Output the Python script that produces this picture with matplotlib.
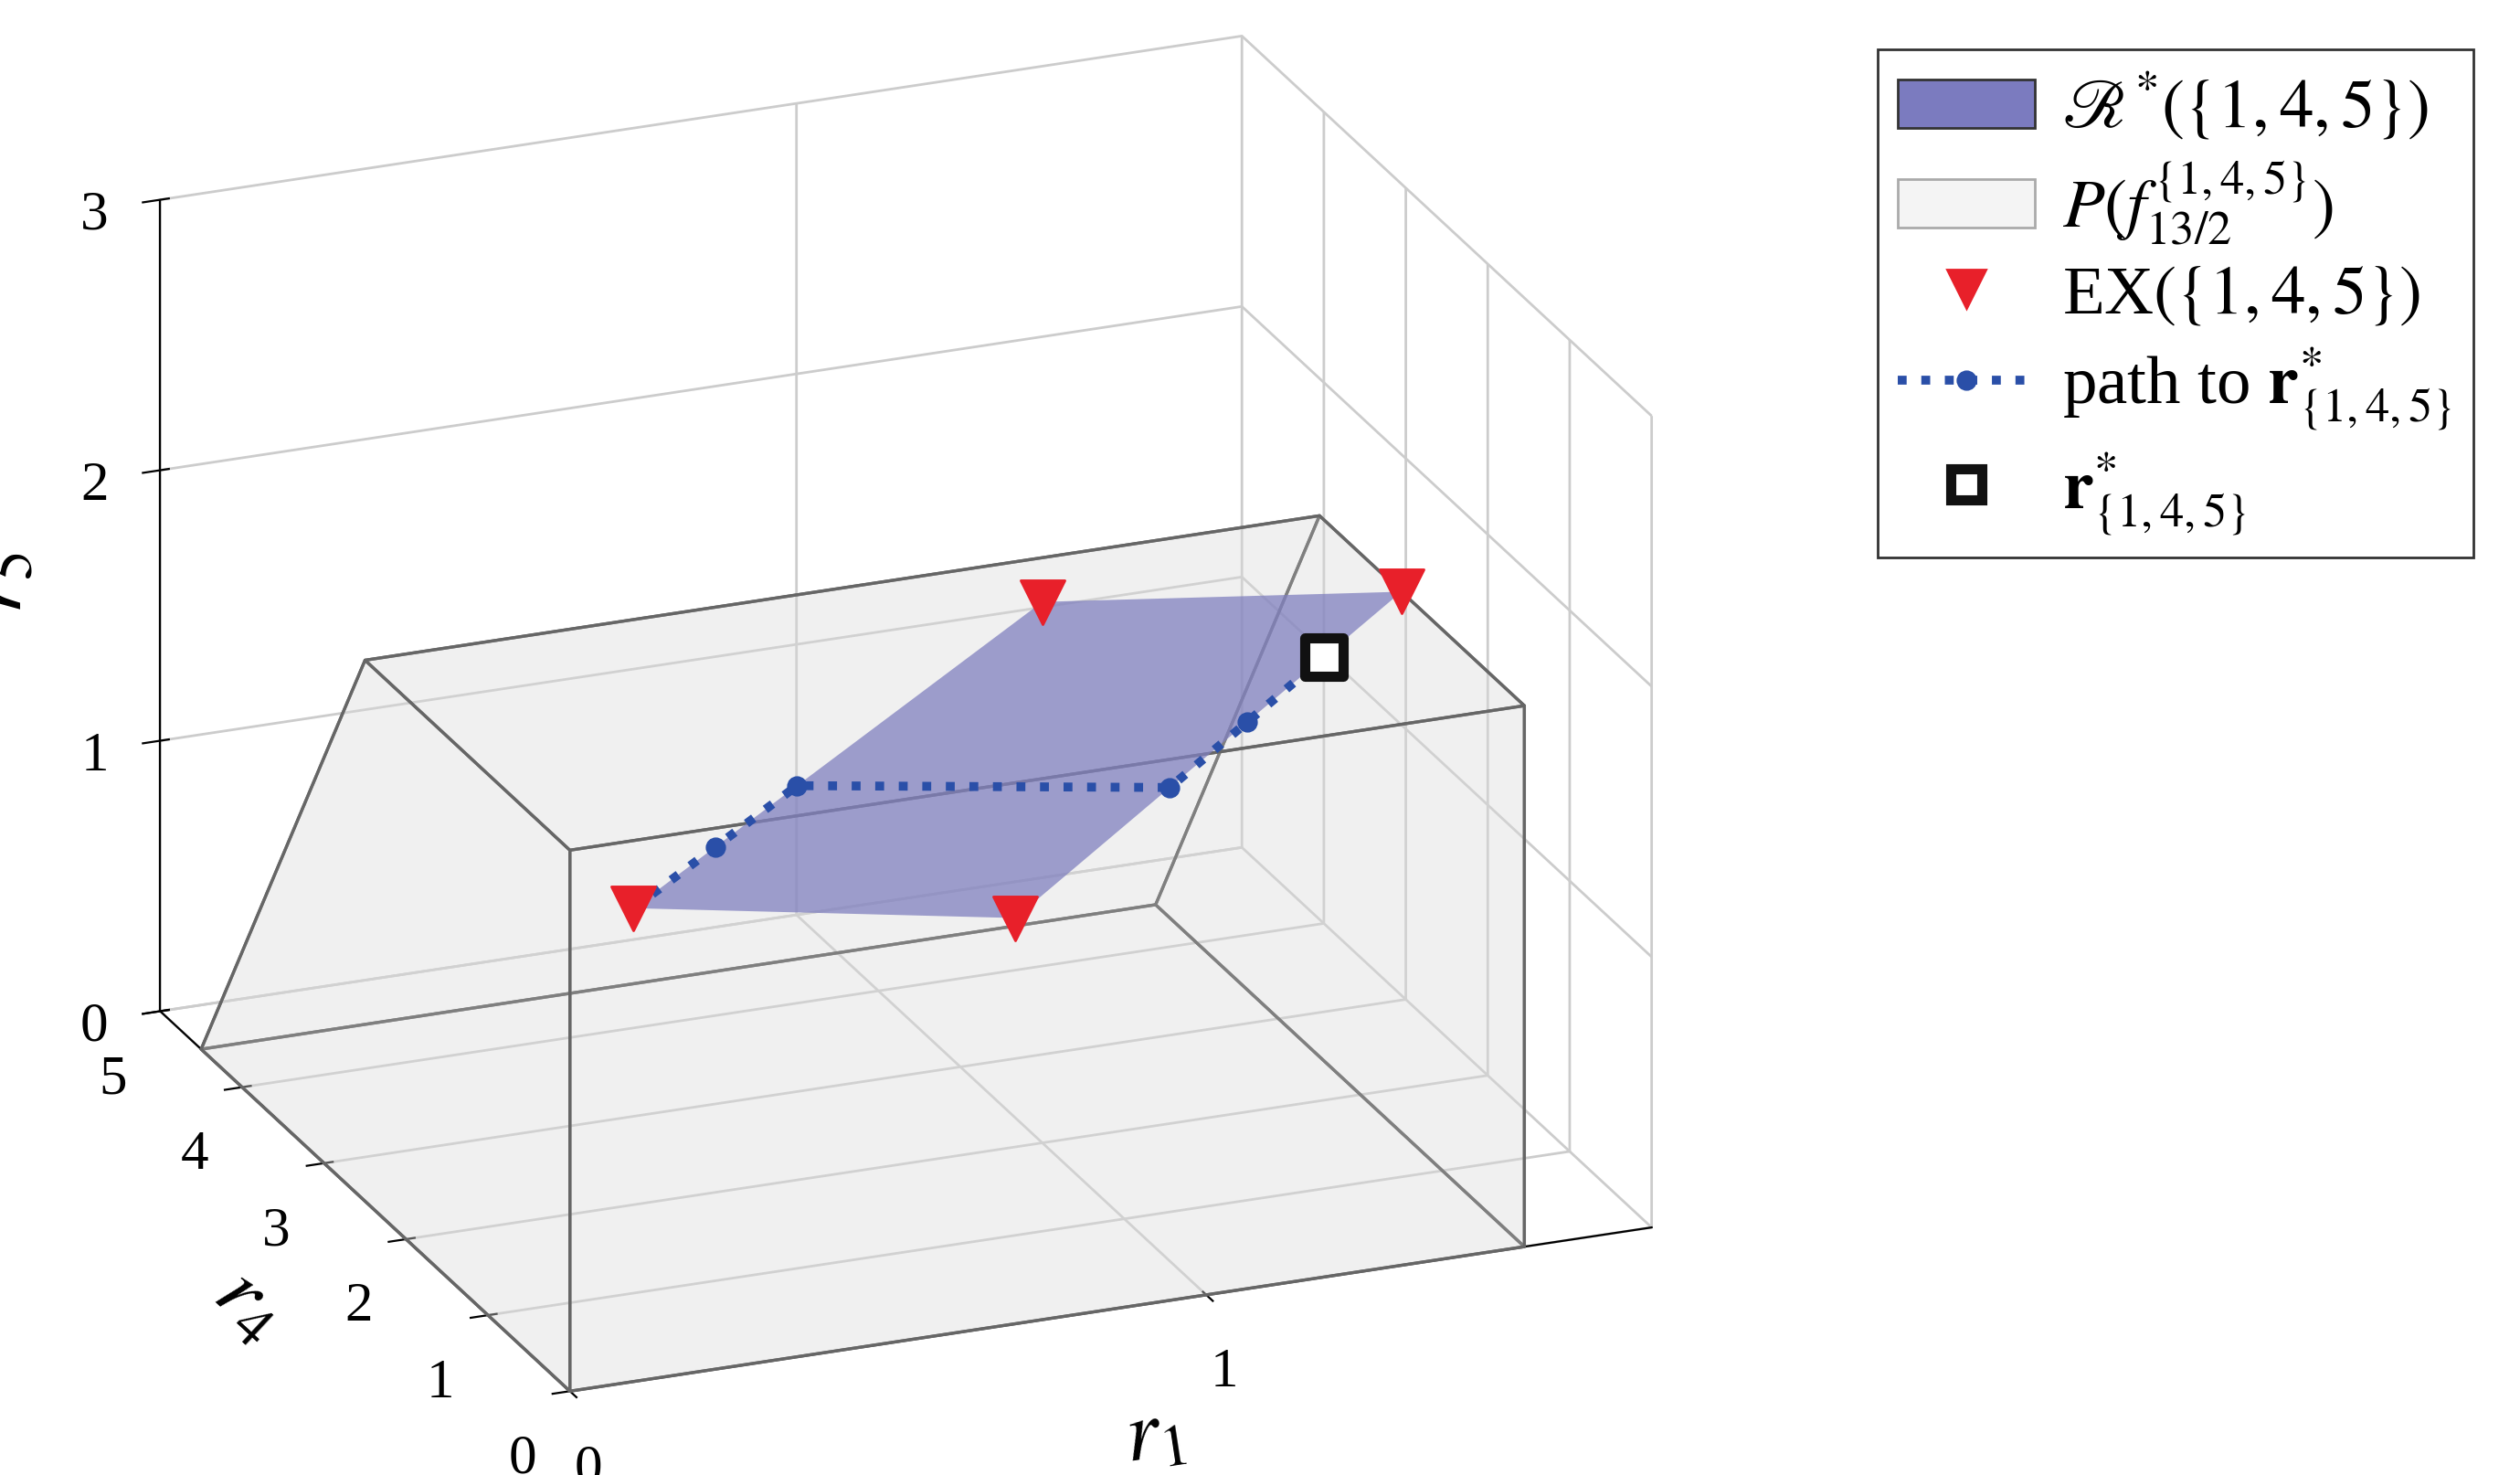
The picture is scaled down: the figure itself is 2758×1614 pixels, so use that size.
import numpy as np
import matplotlib.pyplot as plt
from mpl_toolkits.mplot3d.art3d import Poly3DCollection
from matplotlib.patches import Patch
from matplotlib.lines import Line2D

plt.rcParams['font.family'] = ['Liberation Serif', 'DejaVu Serif']
plt.rcParams['mathtext.fontset'] = 'stix'

# polytope P(f) vertices (r1, r4, r5)
r1_max = 1.5
p_front = [(0, 0, 0), (r1_max, 0, 0), (r1_max, 0, 2), (0, 0, 2)]
p_ridge = [(0, 2.5, 2), (r1_max, 2.5, 2)]
p_back = [(0, 4.5, 0), (r1_max, 4.5, 0)]

# extreme points of R*({1,4,5})
ex_r1 = [0.1, 0.7, 1.5, 1.0]
ex_r4 = [0.0, 0.0, 1.5, 2.0]
ex_r5 = [1.75, 1.5, 2.0, 2.0]

# path to r*
path_r1 = [0.1, 0.28, 0.46, 1.02, 1.18, 1.34]
path_r4 = [0.0, 0.4, 0.8, 0.6, 0.9, 1.2]
path_r5 = [1.75, 1.80, 1.85, 1.70, 1.80, 1.90]
rstar = (1.34, 1.2, 1.9)

fig = plt.figure(figsize=(13.79, 8.07), dpi=200)
ax = fig.add_axes([-0.08, -0.1, 0.86, 1.2], projection='3d')
ax.set_proj_type('ortho')
ax.computed_zorder = False

F0, F1, F2, F3 = p_front
R0, R1 = p_ridge
B0, B1 = p_back
faces = [
    [F0, F1, F2, F3],
    [F3, F2, R1, R0],
    [R0, R1, B1, B0],
    [F0, F1, B1, B0],
    [F0, F3, R0, B0],
    [F1, F2, R1, B1],
]
poly = Poly3DCollection(faces, facecolor=(0.86, 0.86, 0.86, 0.22),
                        edgecolor='#666666', linewidth=1.2, zorder=1)
ax.add_collection3d(poly)

reg = Poly3DCollection([list(zip(ex_r1, ex_r4, ex_r5))],
                       facecolor=(0.5, 0.5, 0.75, 0.75), edgecolor='none',
                       zorder=2)
ax.add_collection3d(reg)

ax.plot(path_r1, path_r4, path_r5, ':', color='#2a4fa8', lw=3.5,
        marker='o', ms=7, zorder=10)
ax.scatter(ex_r1, ex_r4, ex_r5, marker='v', s=300, color='#e8202a',
           depthshade=False, zorder=11)
ax.scatter([rstar[0]], [rstar[1]], [rstar[2]], marker='s', s=220,
           facecolor='white', edgecolor='#111111', linewidths=4,
           depthshade=False, zorder=12)

ax.set_xlim(0, 1.7)
ax.set_ylim(0, 5)
ax.set_zlim(0, 3)
ax.set_xticks([0, 1])
ax.set_yticks([0, 1, 2, 3, 4, 5])
ax.set_zticks([0, 1, 2, 3])
ax.tick_params(labelsize=22, pad=8)
ax.set_xlabel('$r_1$', fontsize=34, labelpad=18)
ax.set_ylabel('$r_4$', fontsize=34, labelpad=18)
ax.set_zlabel('$r_5$', fontsize=34, labelpad=18)
for a in (ax.xaxis, ax.yaxis, ax.zaxis):
    a.set_pane_color((1, 1, 1, 0))
    a._axinfo['grid']['color'] = '#cccccc'
    a._axinfo['grid']['linewidth'] = 1.0
ax.set_box_aspect((1.6, 1.5, 1.2))
ax.view_init(elev=22, azim=-112)

handles = [
    Patch(facecolor='#7b7bbf', edgecolor='#333333', label=r'$\mathscr{R}^{*}(\{1,4,5\})$'),
    Patch(facecolor='#f4f4f4', edgecolor='#aaaaaa', label=r'$P(f_{13/2}^{\{1,4,5\}})$'),
    Line2D([], [], ls='none', marker='v', ms=15, color='#e8202a', label=r'EX$(\{1,4,5\})$'),
    Line2D([], [], ls=':', lw=3.5, marker='o', ms=7, color='#2a4fa8', label=r'path to $\mathbf{r}^{*}_{\{1,4,5\}}$'),
    Line2D([], [], ls='none', marker='s', ms=12, mfc='white', mec='#111111', mew=4, label=r'$\mathbf{r}^{*}_{\{1,4,5\}}$'),
]
fig.legend(handles=handles, loc='upper right', bbox_to_anchor=(0.995, 0.99),
           fontsize=27, frameon=True, fancybox=False, edgecolor='black',
           handlelength=2.0, handletextpad=0.4, borderpad=0.3, labelspacing=0.25)

fig.savefig('out.png', dpi=200)
